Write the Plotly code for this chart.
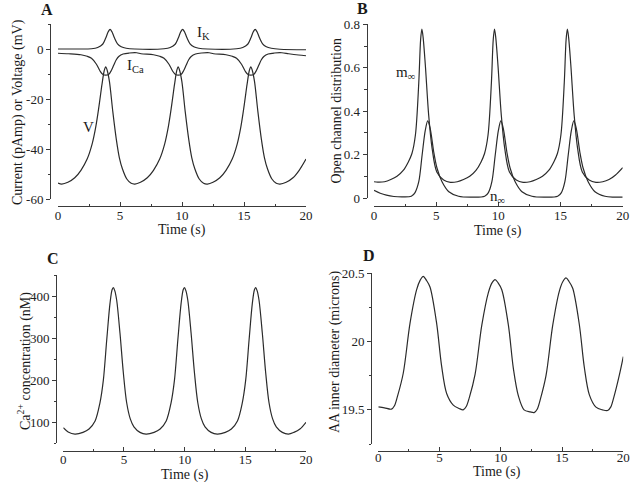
import plotly.graph_objects as go

# ---------------- data ----------------
# Panel A: membrane voltage V (mV)
t_V = [0.0, 0.3, 0.8, 1.35, 1.85, 2.35, 2.75, 3.05, 3.3, 3.55, 3.73, 3.85, 3.97, 4.15, 4.42, 4.7, 4.95, 5.2, 5.55, 5.9, 6.2,
       6.65, 7.2, 7.7, 8.2, 8.6, 8.9, 9.15, 9.4, 9.58, 9.69, 9.81, 9.99, 10.26, 10.54, 10.79, 11.04, 11.39, 11.74, 12.05,
       12.5, 13.05, 13.55, 14.05, 14.45, 14.75, 15.0, 15.25, 15.43, 15.55, 15.67, 15.85, 16.12, 16.4, 16.65, 16.9, 17.25, 17.6, 17.9,
       18.4, 18.95, 19.45, 20.0]
V = [-53.6, -54.0, -53.3, -51.5, -48.5, -44.0, -38.0, -31.0, -23.0, -14.0, -8.5, -7.0, -8.5, -13.0, -25.0, -36.0, -43.5, -48.0, -52.0, -53.7, -54.0,
     -53.3, -51.5, -48.5, -44.0, -38.0, -31.0, -23.0, -14.0, -8.5, -7.0, -8.5, -13.0, -25.0, -36.0, -43.5, -48.0, -52.0, -53.7, -54.0,
     -53.3, -51.5, -48.5, -44.0, -38.0, -31.0, -23.0, -14.0, -8.5, -7.0, -8.5, -13.0, -25.0, -36.0, -43.5, -48.0, -52.0, -53.7, -54.0,
     -53.3, -51.5, -48.5, -44.0]

# Panel A: calcium current I_Ca (pA)
t_ICa = [0.0, 0.85, 1.85, 2.35, 2.7, 3.1, 3.4, 3.6, 3.85, 4.1, 4.3, 4.5, 4.7, 4.9, 5.25, 5.75, 6.35,
         6.7, 7.7, 8.2, 8.55, 8.95, 9.25, 9.45, 9.69, 9.94, 10.14, 10.34, 10.54, 10.74, 11.09, 11.59, 12.2,
         12.55, 13.55, 14.05, 14.4, 14.8, 15.1, 15.3, 15.55, 15.8, 16.0, 16.2, 16.4, 16.6, 16.95, 17.45, 18.05,
         18.6, 19.4, 20.0]
I_Ca = [-1.6, -1.8, -2.2, -2.8, -3.6, -6.0, -8.8, -10.0, -10.4, -10.0, -8.5, -6.3, -4.2, -2.9, -1.9, -1.5, -1.4,
        -1.8, -2.2, -2.8, -3.6, -6.0, -8.8, -10.0, -10.4, -10.0, -8.5, -6.3, -4.2, -2.9, -1.9, -1.5, -1.4,
        -1.8, -2.2, -2.8, -3.6, -6.0, -8.8, -10.0, -10.4, -10.0, -8.5, -6.3, -4.2, -2.9, -1.9, -1.5, -1.4,
        -1.8, -2.3, -2.6]

# Panel A: potassium current I_K (pA)
t_IK = [0.0, 1.5, 2.7, 3.2, 3.6, 3.85, 4.05, 4.2, 4.35, 4.55, 4.8, 5.1, 5.5, 6.2,
        8.55, 9.05, 9.45, 9.7, 9.9, 10.05, 10.2, 10.4, 10.65, 10.95, 11.35, 12.05,
        14.4, 14.9, 15.3, 15.55, 15.75, 15.9, 16.05, 16.25, 16.5, 16.8, 17.2, 17.9, 20.0]
I_K = [0.1, 0.1, 0.2, 0.7, 2.0, 4.5, 7.0, 8.0, 7.0, 4.6, 2.2, 1.0, 0.4, 0.1,
       0.2, 0.7, 2.0, 4.5, 7.0, 8.0, 7.0, 4.6, 2.2, 1.0, 0.4, 0.1,
       0.2, 0.7, 2.0, 4.5, 7.0, 8.0, 7.0, 4.6, 2.2, 1.0, 0.4, 0.0, -0.2]

# Panel B: open channel distributions
t_m = [0.0, 0.3, 0.85, 1.35, 1.85, 2.35, 2.75, 3.05, 3.33, 3.6, 3.75, 3.85, 3.95, 4.13, 4.4, 4.67, 5.05, 5.6, 6.15,
       6.7, 7.2, 7.7, 8.2, 8.6, 8.89, 9.17, 9.44, 9.59, 9.69, 9.79, 9.97, 10.24, 10.51, 10.89, 11.44, 11.99,
       12.55, 13.05, 13.55, 14.05, 14.45, 14.75, 15.03, 15.3, 15.45, 15.55, 15.65, 15.83, 16.1, 16.37, 16.75, 17.3, 17.85,
       18.4, 18.9, 19.4, 20.0]
m_inf = [0.075, 0.073, 0.075, 0.085, 0.1, 0.127, 0.165, 0.205, 0.29, 0.53, 0.73, 0.778, 0.74, 0.61, 0.38, 0.23, 0.12, 0.083, 0.072,
         0.075, 0.085, 0.1, 0.127, 0.165, 0.205, 0.29, 0.53, 0.73, 0.778, 0.74, 0.61, 0.38, 0.23, 0.12, 0.083, 0.072,
         0.075, 0.085, 0.1, 0.127, 0.165, 0.205, 0.29, 0.53, 0.73, 0.778, 0.74, 0.61, 0.38, 0.23, 0.12, 0.083, 0.072,
         0.075, 0.085, 0.105, 0.14]

t_n = [0.0, 0.5, 1.0, 1.6, 2.3, 3.0, 3.3, 3.6, 3.87, 4.12, 4.32, 4.52, 4.8, 5.07, 5.47, 6.02, 6.8, 7.8,
       8.9, 9.2, 9.48, 9.75, 10.0, 10.2, 10.4, 10.68, 10.95, 11.35, 11.9, 12.7, 13.7,
       14.77, 15.07, 15.35, 15.62, 15.87, 16.07, 16.27, 16.55, 16.82, 17.22, 17.77, 18.57, 19.3, 20.0]
n_inf = [0.035, 0.022, 0.013, 0.007, 0.005, 0.008, 0.025, 0.075, 0.198, 0.31, 0.355, 0.32, 0.213, 0.137, 0.075, 0.029, 0.008, 0.004,
         0.008, 0.025, 0.075, 0.198, 0.31, 0.355, 0.32, 0.213, 0.137, 0.075, 0.029, 0.008, 0.004,
         0.008, 0.025, 0.075, 0.198, 0.31, 0.355, 0.32, 0.213, 0.137, 0.075, 0.029, 0.008, 0.004, 0.004]

# Panel C: Ca2+ concentration (nM)
t_ca = [0.0, 0.4, 0.96, 1.62, 2.12, 2.62, 3.02, 3.3, 3.58, 3.85, 4.02, 4.12, 4.24, 4.4, 4.67, 4.95, 5.22, 5.52, 5.82, 6.32, 6.82,
        7.48, 7.98, 8.48, 8.88, 9.16, 9.44, 9.71, 9.88, 9.98, 10.1, 10.26, 10.53, 10.81, 11.08, 11.38, 11.68, 12.18, 12.69,
        13.35, 13.85, 14.35, 14.75, 15.03, 15.31, 15.58, 15.75, 15.85, 15.97, 16.13, 16.4, 16.68, 16.95, 17.25, 17.55, 18.05, 18.55,
        19.0, 19.5, 20.0]
ca = [87, 77, 72, 76, 84, 103, 146, 200, 296, 383, 415, 420, 413, 390, 312, 217, 147, 108, 89, 76, 72,
      76, 84, 103, 146, 200, 296, 383, 415, 420, 413, 390, 312, 217, 147, 108, 89, 76, 72,
      76, 84, 103, 146, 200, 296, 383, 415, 420, 413, 390, 312, 217, 147, 108, 89, 76, 72,
      76, 84, 100]

# Panel D: AA inner diameter (microns)
t_d = [0.0, 0.5, 1.07, 1.32, 1.57, 2.04, 2.59, 3.13, 3.42, 3.67, 3.92, 4.22, 4.76, 5.17, 5.58, 6.12, 6.6, 6.93,
       7.18, 7.43, 7.9, 8.45, 8.99, 9.28, 9.53, 9.78, 10.08, 10.62, 11.03, 11.44, 11.9, 12.4, 12.72,
       12.97, 13.22, 13.69, 14.24, 14.78, 15.07, 15.32, 15.57, 15.87, 16.41, 16.82, 17.23, 17.77, 18.3, 18.72,
       18.97, 19.22, 19.69, 20.0]
diam = [19.522, 19.515, 19.505, 19.53, 19.6, 19.77, 20.135, 20.38, 20.45, 20.478, 20.45, 20.40, 20.135, 19.82, 19.62, 19.535, 19.51, 19.50,
        19.525, 19.59, 19.76, 20.12, 20.36, 20.43, 20.454, 20.43, 20.38, 20.12, 19.8, 19.6, 19.5, 19.485, 19.48,
        19.505, 19.575, 19.75, 20.12, 20.37, 20.44, 20.466, 20.44, 20.39, 20.125, 19.81, 19.61, 19.52, 19.5, 19.495,
        19.52, 19.59, 19.76, 19.89]

x_ticks = [0, 5, 10, 15, 20]
x_ticklabels = ["0", "5", "10", "15", "20"]
yA_ticks = [-60, -40, -20, 0]
yB_ticks = [0, 0.2, 0.4, 0.6, 0.8]
yB_labels = ["0", "0.2", "0.4", "0.6", "0.8"]
yC_ticks = [100, 200, 300, 400]
yD_ticks = [19.5, 20, 20.5]
yD_labels = ["19.5", "20", "20.5"]

# ---------------- layout helpers ----------------
W, H = 630, 482
FONT = "Liberation Serif"
LINE = "#2b2b2b"
AX = "#3a3a3a"


def px(x):
    return x / W


def py(y):
    return 1 - y / H


fig = go.Figure()

line_style = dict(color=LINE, width=1.2, shape="spline", smoothing=0.9)

fig.add_trace(go.Scatter(x=t_V, y=V, mode="lines", line=line_style, xaxis="x", yaxis="y", showlegend=False))
fig.add_trace(go.Scatter(x=t_ICa, y=I_Ca, mode="lines", line=line_style, xaxis="x", yaxis="y", showlegend=False))
fig.add_trace(go.Scatter(x=t_IK, y=I_K, mode="lines", line=line_style, xaxis="x", yaxis="y", showlegend=False))
fig.add_trace(go.Scatter(x=t_m, y=m_inf, mode="lines", line=line_style, xaxis="x2", yaxis="y2", showlegend=False))
fig.add_trace(go.Scatter(x=t_n, y=n_inf, mode="lines", line=line_style, xaxis="x2", yaxis="y2", showlegend=False))
fig.add_trace(go.Scatter(x=t_ca, y=ca, mode="lines", line=line_style, xaxis="x3", yaxis="y3", showlegend=False))
fig.add_trace(go.Scatter(x=t_d, y=diam, mode="lines", line=line_style, xaxis="x4", yaxis="y4", showlegend=False))

tickfont = dict(family=FONT, size=13, color="#222")


def xaxis(dom, ypos, standoff=-3):
    return dict(domain=[px(dom[0]), px(dom[1])], anchor="free", position=py(ypos),
                range=[0, 20], tickvals=x_ticks, ticktext=x_ticklabels, ticks="inside", ticklen=4,
                tickcolor=AX, showline=True, linecolor=AX, linewidth=1, showgrid=False, zeroline=False,
                tickfont=tickfont, ticklabelstandoff=standoff,
                minor=dict(ticks="inside", dtick=2.5, tick0=0, ticklen=2, tickcolor=AX, showgrid=False),
                fixedrange=True, automargin=False)


def yaxis(dom, xpos, rng, vals, labels, mdt):
    return dict(domain=[py(dom[0]), py(dom[1])], anchor="free", position=px(xpos),
                range=rng, tickvals=vals, ticktext=labels, ticks="outside", ticklen=4,
                tickcolor=AX, showline=True, linecolor=AX, linewidth=1, showgrid=False, zeroline=False,
                tickfont=tickfont,
                minor=dict(ticks="outside", dtick=mdt, tick0=0, ticklen=2.5, tickcolor=AX, showgrid=False),
                fixedrange=True, automargin=False)


fig.update_layout(
    width=W, height=H, margin=dict(l=0, r=0, t=0, b=0, autoexpand=False),
    paper_bgcolor="white", plot_bgcolor="white",
    font=dict(family=FONT, color="#222"),
    xaxis=xaxis((58, 306), 206),
    yaxis=yaxis((199, 24.3), 50, [-60, 10], yA_ticks, [str(v) for v in yA_ticks], 10),
    xaxis2=xaxis((374, 622.7), 206),
    yaxis2=yaxis((198, 24.3), 366.7, [0, 0.8], yB_ticks, yB_labels, 0.1),
    xaxis3=xaxis((63.3, 306), 450.7),
    yaxis3=yaxis((443.3, 275), 56, [50, 450], yC_ticks, [str(v) for v in yC_ticks], 50),
    xaxis4=xaxis((378.3, 623.3), 450.5, -5),
    yaxis4=yaxis((444, 273.3), 371, [19.25, 20.5], yD_ticks, yD_labels, 0.25),
)

annots = []


def txt(x, y, s, size=14, angle=0, bold=False):
    annots.append(dict(x=px(x), y=py(y), xref="paper", yref="paper", text=("<b>%s</b>" % s) if bold else s,
                       showarrow=False, xanchor="center", yanchor="middle", textangle=angle,
                       font=dict(family=FONT, size=size, color="#1a1a1a")))


# panel letters
txt(46.7, 9.5, "A", 16, bold=True)
txt(363, 8.5, "B", 16, bold=True)
txt(52.5, 258.5, "C", 16, bold=True)
txt(369, 255.5, "D", 16, bold=True)

# axis titles
txt(18, 112, "Current (pAmp) or Voltage (mV)", 14, -90)
txt(182, 230, "Time (s)", 14)
txt(336.5, 111, "Open channel distribution", 14, -90)
txt(498, 231, "Time (s)", 14)
txt(24, 361, "Ca<sup>2+</sup> concentration (nM)", 14, -90)
txt(184.5, 475, "Time (s)", 14)
txt(334.5, 352.5, "AA inner diameter (microns)", 14, -90)
txt(497, 472, "Time (s)", 14)

# curve labels
txt(203, 33, "I<sub>K</sub>", 15)
txt(135, 66, "I<sub>Ca</sub>", 15)
txt(88.5, 127, "V", 15)
txt(405, 73, "m<sub>∞</sub>", 15)
txt(497, 197, "n<sub>∞</sub>", 15)

fig.update_layout(annotations=annots)

fig.write_html("out.html", config={"displayModeBar": False},
               post_script="document.body.style.margin='0';document.body.style.overflow='hidden';")
